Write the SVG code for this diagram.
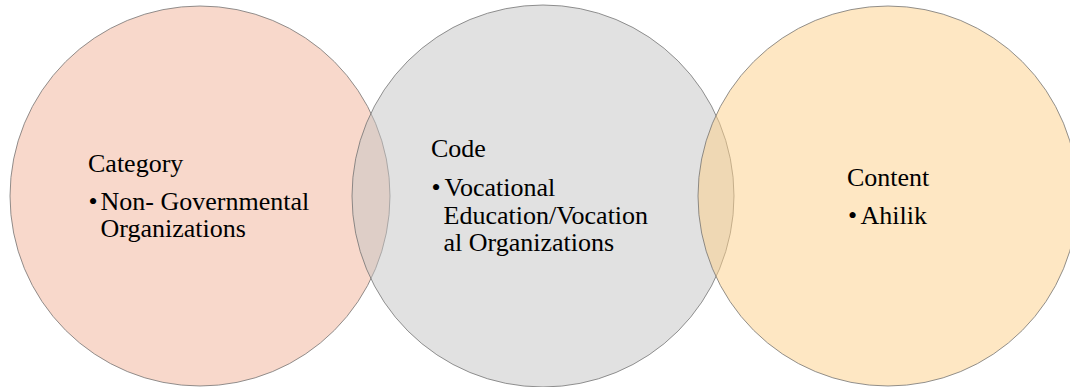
<svg xmlns="http://www.w3.org/2000/svg" width="1070" height="387" viewBox="0 0 1070 387">
<style>
.c{stroke:#6e6e6e;stroke-opacity:0.75;stroke-width:1;fill-opacity:0.5}
.t{font-family:"Liberation Serif","Times New Roman",serif;font-size:26px;fill:#000}
</style>
<rect width="1070" height="387" fill="#fff"/>
<g id="node-category">
<circle class="c" cx="200" cy="196" r="190" fill="#F1B197"/>
<text class="t" x="88" y="172">Category</text>
<text class="t" x="88.5" y="210">•</text>
<text class="t" x="100.5" y="210">Non- Governmental</text>
<text class="t" x="100.5" y="237">Organizations</text>
</g>
<g id="node-code">
<circle class="c" cx="543" cy="196" r="191" fill="#C3C3C3"/>
<text class="t" x="431" y="157">Code</text>
<text class="t" x="431.5" y="196">•</text>
<text class="t" x="444.5" y="196">Vocational</text>
<text class="t" x="443.5" y="223.5">Education/Vocation</text>
<text class="t" x="443.5" y="250.5">al Organizations</text>
</g>
<g id="node-content">
<circle class="c" cx="888" cy="196" r="190" fill="#FDCF87"/>
<text class="t" x="847" y="186">Content</text>
<text class="t" x="848" y="224">•</text>
<text class="t" x="860.5" y="224">Ahilik</text>
</g>
<g id="connectors"/>
</svg>
